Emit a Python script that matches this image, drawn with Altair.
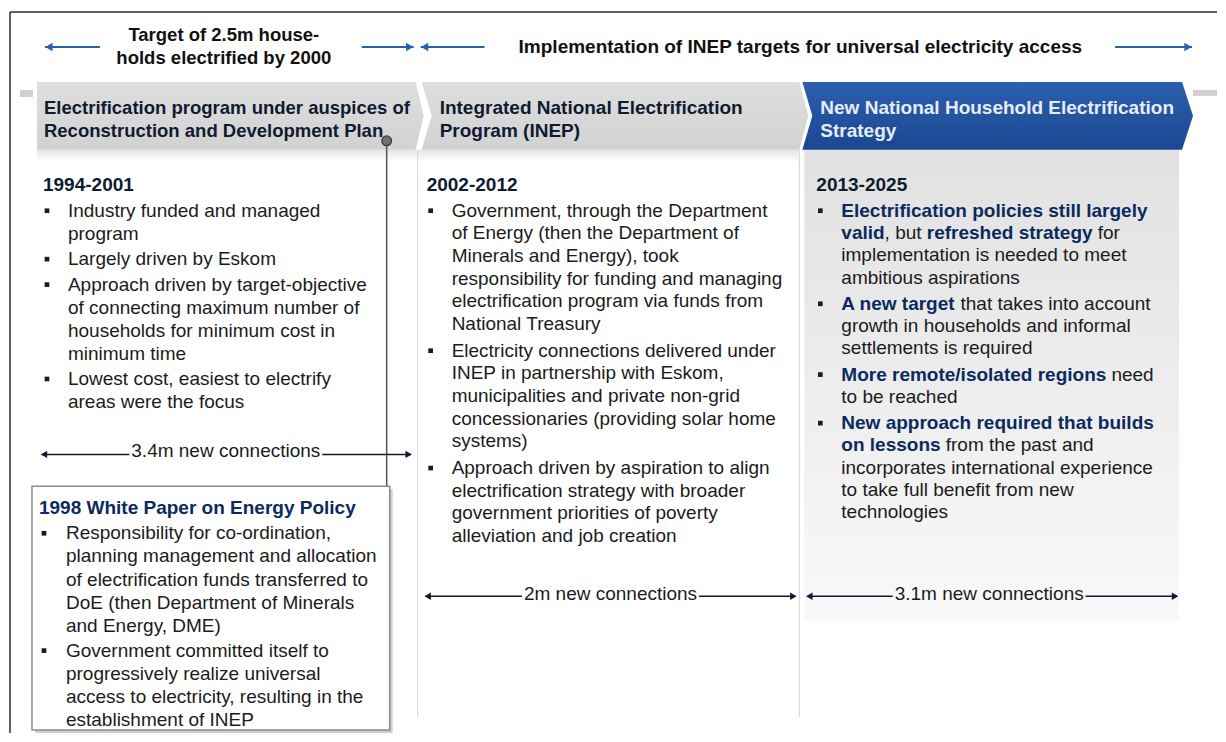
import altair as alt
import pandas as pd

# ---------------- content (text) ----------------
header_left = ["Target of 2.5m house-", "holds electrified by 2000"]
header_right = "Implementation of INEP targets for universal electricity access"

phase_titles = [
    ["Electrification program under auspices of", "Reconstruction and Development Plan"],
    ["Integrated National Electrification", "Program (INEP)"],
    ["New National Household Electrification", "Strategy"],
]
periods = ["1994-2001", "2002-2012", "2013-2025"]

col1_bullets = [
    ["Industry funded and managed", "program"],
    ["Largely driven by Eskom"],
    ["Approach driven by target-objective", "of connecting maximum number of",
     "households for minimum cost in", "minimum time"],
    ["Lowest cost, easiest to electrify", "areas were the focus"],
]
col2_bullets = [
    ["Government, through the Department", "of Energy (then the Department of",
     "Minerals and Energy), took", "responsibility for funding and managing",
     "electrification program via funds from", "National Treasury"],
    ["Electricity connections delivered under", "INEP in partnership with Eskom,",
     "municipalities and private non-grid", "concessionaries (providing solar home",
     "systems)"],
    ["Approach driven by aspiration to align", "electrification strategy with broader",
     "government  priorities of poverty", "alleviation and job creation"],
]
# each line is a list of (segment, is_bold)
col3_bullets = [
    [[("Electrification policies still largely", 1)],
     [("valid", 1), (", but ", 0), ("refreshed strategy", 1), (" for", 0)],
     [("implementation is needed to meet", 0)],
     [("ambitious aspirations", 0)]],
    [[("A new target", 1), (" that takes into account", 0)],
     [("growth in households and informal", 0)],
     [("settlements is required", 0)]],
    [[("More remote/isolated regions", 1), (" need", 0)],
     [("to be reached", 0)]],
    [[("New approach required that builds", 1)],
     [("on lessons", 1), (" from the past and", 0)],
     [("incorporates international experience", 0)],
     [("to take full benefit from new", 0)],
     [("technologies", 0)]],
]
connections = ["3.4m new connections", "2m new connections", "3.1m new connections"]

wp_title = "1998 White Paper on Energy Policy"
wp_bullets = [
    ["Responsibility for co-ordination,", "planning management and allocation",
     "of electrification funds transferred to", "DoE (then Department of Minerals",
     "and Energy, DME)"],
    ["Government committed itself to", "progressively realize universal",
     "access to electricity, resulting in the", "establishment of INEP"],
]

# ---------------- style / layout ----------------
FONT = "Liberation Sans, Arial, Helvetica, sans-serif"
FS = 19
TXT = "#1b1b1b"
DARK = "#101a30"
NAVY = "#0b2a5e"
BLUE_ARROW = "#2663ab"
CONN = "#0d1a33"

XMIN, XMAX, YMIN, YMAX = 8, 1218, 8, 734
XS = alt.Scale(domain=[XMIN, XMAX], nice=False, zero=False)
YS = alt.Scale(domain=[YMAX, YMIN], nice=False, zero=False)

# Arial / Liberation Sans advance widths (per 1000 em) for text measuring
_low = "abcdefghijklmnopqrstuvwxyz"
_up = "ABCDEFGHIJKLMNOPQRSTUVWXYZ"
_rl = [556, 556, 500, 556, 556, 278, 556, 556, 222, 222, 500, 222, 833, 556, 556, 556, 556, 333, 500, 278, 556, 500, 722, 500, 500, 500]
_bl = [556, 611, 556, 611, 556, 333, 611, 611, 278, 278, 556, 278, 889, 611, 611, 611, 611, 389, 556, 333, 611, 556, 778, 556, 556, 500]
_ru = [667, 667, 722, 722, 667, 611, 778, 722, 278, 500, 667, 556, 833, 722, 778, 667, 778, 722, 667, 611, 722, 667, 944, 667, 667, 611]
_bu = [722, 722, 722, 722, 667, 611, 778, 722, 278, 556, 722, 611, 833, 722, 778, 667, 778, 722, 667, 611, 722, 667, 944, 667, 667, 611]
_p = {" ": 278, ",": 278, ".": 278, "/": 278, "-": 333, "(": 333, ")": 333}
REG = dict(zip(_low, _rl)); REG.update(zip(_up, _ru)); REG.update(_p)
BOLD = dict(zip(_low, _bl)); BOLD.update(zip(_up, _bu)); BOLD.update(_p)


def tw(s, bold=False, size=FS):
    t = BOLD if bold else REG
    return sum(t.get(c, 556) for c in s) * size / 1000.0


def X(f="x"):
    return alt.X(f"{f}:Q", scale=XS, axis=None)


def Y(f="y"):
    return alt.Y(f"{f}:Q", scale=YS, axis=None)


def text_layer(rows, bold=False, color=TXT, size=FS, align="left"):
    df = pd.DataFrame(rows, columns=["x", "y", "t"])
    return alt.Chart(df).mark_text(
        align=align, baseline="alphabetic", font=FONT, fontSize=size,
        fontWeight="bold" if bold else "normal", color=color
    ).encode(x=X(), y=Y(), text="t:N")


def rect_layer(boxes, **kw):
    df = pd.DataFrame(boxes, columns=["x", "x2", "y", "y2"])
    return alt.Chart(df).mark_rect(**kw).encode(x=X(), x2="x2:Q", y=Y(), y2="y2:Q")


def rule_layer(segs, **kw):
    df = pd.DataFrame(segs, columns=["x", "x2", "y", "y2"])
    return alt.Chart(df).mark_rule(**kw).encode(x=X(), x2="x2:Q", y=Y(), y2="y2:Q")


def point_layer(pts, **kw):
    df = pd.DataFrame(pts, columns=["x", "y"])
    return alt.Chart(df).mark_point(**kw).encode(x=X(), y=Y())


def grad(c1, c2, vertical=True):
    return alt.Gradient(gradient="linear",
                        stops=[alt.GradientStop(color=c1, offset=0), alt.GradientStop(color=c2, offset=1)],
                        x1=0, y1=0, x2=0 if vertical else 1, y2=1 if vertical else 0)


def stack(bullets, y0, lh, gap):
    out, y = [], y0
    for bi, b in enumerate(bullets):
        if bi > 0:
            y += gap
        row = []
        for _ in b:
            row.append(y)
            y += lh
        out.append(row)
    return out


layers = []

# frame (kept inside the drawable area so the view is not shrunk)
layers.append(rule_layer([(10, XMAX, 12, 12), (10, 10, 12, YMAX)], color="#2b2b2b", strokeWidth=1.5))

# panel backgrounds
layers.append(rect_layer([(805, 1180, 150, 622)], color=grad("#e1e1e1", "#f9f9f9")))
layers.append(rect_layer([(37, 800, 150, 162)], color=grad("#e4e4e4", "#ffffff")))
layers.append(rule_layer([(418, 418, 150, 718), (800, 800, 150, 718)], color="#d6d6d6", strokeWidth=1))

# chevron band
TOP, MID, BOT = 82, 116, 150
chev_geo = [  # left edge (top, middle), right edge (top, tip)
    (37, 37, 416, 424),
    (422, 432, 800, 809),
    (803, 813, 1183, 1194),
]


def chev_rows(ids):
    rows = []
    for i in ids:
        lt, lm, rt, rm = chev_geo[i]
        for yy in (TOP, MID, BOT):
            f = 1 - abs(yy - MID) / (MID - TOP)
            rows.append((i, yy, lt + (lm - lt) * f, rt + (rm - rt) * f))
    return pd.DataFrame(rows, columns=["id", "y", "xl", "xr"])


layers.append(rect_layer([(20, 33, 90, 97), (1194, XMAX, 90, 96)], color="#d0d0d0"))
layers.append(alt.Chart(chev_rows([0, 1])).mark_area(orient="horizontal", color=grad("#dedede", "#d2d2d2"))
              .encode(y=Y(), x=X("xl"), x2="xr:Q", detail="id:N"))
layers.append(alt.Chart(chev_rows([2])).mark_area(orient="horizontal", color=grad("#2c60b0", "#1c4690"))
              .encode(y=Y(), x=X("xl"), x2="xr:Q", detail="id:N"))

# chevron titles
ch_x = [44, 440, 821]
ch_y = [114, 137]
ch_sizes = [18.5, 19, 19]
ch_cols = [DARK, DARK, "#e6edf8"]
for i, lines in enumerate(phase_titles):
    layers.append(text_layer([(ch_x[i], ch_y[j], s) for j, s in enumerate(lines)],
                             bold=True, color=ch_cols[i], size=ch_sizes[i]))

# top header text and arrows
layers.append(text_layer([(224, 41, header_left[0]), (224, 64, header_left[1])],
                         bold=True, color="#111111", size=18.5, align="center"))
layers.append(text_layer([(801, 53, header_right)], bold=True, color="#111111", size=19, align="center"))

top_arrows = [(45, 100, "L"), (362, 414, "R"), (421, 485, "L"), (1116, 1193, "R")]
AY = 47
layers.append(rule_layer([(a, b, AY, AY) for a, b, _ in top_arrows], color=BLUE_ARROW, strokeWidth=2))
layers.append(point_layer([(a + 4, AY) for a, b, d in top_arrows if d == "L"],
                          shape="triangle-left", filled=True, size=70, color=BLUE_ARROW, opacity=1))
layers.append(point_layer([(b - 4, AY) for a, b, d in top_arrows if d == "R"],
                          shape="triangle-right", filled=True, size=70, color=BLUE_ARROW, opacity=1))

# connector from phase 1 header to the white paper box
layers.append(rule_layer([(387, 387, 141, 487)], color="#555555", strokeWidth=1.5))
layers.append(point_layer([(387, 141)], shape="circle", filled=True, size=95,
                          color="#707070", stroke="#3a3a3a", strokeWidth=1.2, opacity=1))

# period headings
per_x = [43, 427, 817]
layers.append(text_layer([(per_x[i], 191, p) for i, p in enumerate(periods)], bold=True, color=DARK))

# bullet columns
bullet_x = [47, 431, 821]
text_x = [68, 452, 842]
col_params = [(217, 23.0, 2.5), (217, 22.7, 4.0), (217, 22.3, 4.0)]

bullet_pts = []
reg_rows = []
for ci, bullets in enumerate([col1_bullets, col2_bullets]):
    y0, lh, gap = col_params[ci]
    ys = stack(bullets, y0, lh, gap)
    for b, yrow in zip(bullets, ys):
        bullet_pts.append((bullet_x[ci], yrow[0] - 6))
        for line, yy in zip(b, yrow):
            reg_rows.append((text_x[ci], yy, line))

bold3_rows = []
y0, lh, gap = col_params[2]
ys = stack(col3_bullets, y0, lh, gap)
for b, yrow in zip(col3_bullets, ys):
    bullet_pts.append((bullet_x[2], yrow[0] - 6))
    for line, yy in zip(b, yrow):
        cur = text_x[2]
        for seg, isb in line:
            lead = len(seg) - len(seg.lstrip())
            xs = cur + tw(seg[:lead], bool(isb))
            (bold3_rows if isb else reg_rows).append((xs, yy, seg.strip()))
            cur += tw(seg, bool(isb))

# white paper box
BX1, BX2, BY1, BY2 = 32, 390, 487, 731
layers.append(rect_layer([(BX1 + 3, BX2 + 3, BY1 + 3, BY2 + 3)], color="#cfcfcf"))
layers.append(rect_layer([(BX1, BX2, BY1, BY2)], color="#ffffff", stroke="#8c8c8c", strokeWidth=1.5))
layers.append(text_layer([(39, 515, wp_title)], bold=True, color=NAVY))
ys = stack(wp_bullets, 540, 23.2, 1.5)
for b, yrow in zip(wp_bullets, ys):
    bullet_pts.append((44, yrow[0] - 6))
    for line, yy in zip(b, yrow):
        reg_rows.append((66, yy, line))

layers.append(text_layer(reg_rows, color=TXT))
layers.append(text_layer(bold3_rows, bold=True, color=NAVY))
layers.append(point_layer(bullet_pts, shape="square", filled=True, size=22, color=TXT, opacity=1))

# connection arrows
conn_geo = [(40, 413, 455, 458, 226), (424, 798, 597, 601, 611), (806, 1180, 597, 601, 990)]
conn_lines, conn_l, conn_r, conn_txt = [], [], [], []
for (a, b, ly, ty, cx), lab in zip(conn_geo, connections):
    w = tw(lab)
    conn_lines.append((a + 2, cx - w / 2 - 2, ly, ly))
    conn_lines.append((cx + w / 2 + 2, b - 2, ly, ly))
    conn_l.append((a + 4, ly))
    conn_r.append((b - 4, ly))
    conn_txt.append((cx, ty, lab))
layers.append(rule_layer(conn_lines, color=CONN, strokeWidth=1.5))
layers.append(point_layer(conn_l, shape="triangle-left", filled=True, size=55, color=CONN, opacity=1))
layers.append(point_layer(conn_r, shape="triangle-right", filled=True, size=55, color=CONN, opacity=1))
layers.append(text_layer(conn_txt, color=TXT, align="center"))

chart = alt.layer(*layers).properties(
    width=1210, height=726,
    autosize=alt.AutoSizeParams(type="fit", contains="padding"),
    padding=0,
    background="#ffffff",
).configure_view(strokeWidth=0)

chart.save("out.html", embed_options={"renderer": "svg", "actions": False})
